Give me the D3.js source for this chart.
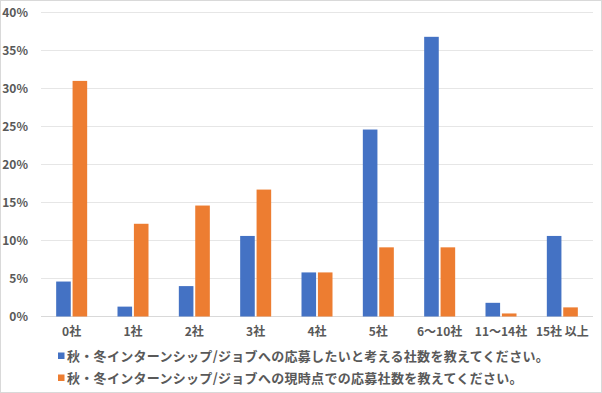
<!DOCTYPE html>
<html>
<head>
<meta charset="utf-8">
<script src="https://cdn.jsdelivr.net/npm/d3@7"></script>
<style>
  body { margin: 0; background: #fff; }
  svg { display: block; }
  text { font-family: "Noto Sans CJK JP", "Noto Sans", sans-serif; fill: #595959; }
</style>
</head>
<body>
<svg id="chart"></svg>
<script>
// categories and series (percent)
const categories = ['0社', '1社', '2社', '3社', '4社', '5社', '6～10社', '11～14社', '15社 以上']
const seriesNames = [
  '秋・冬インターンシップ/ジョブへの応募したいと考える社数を教えてください。',
  '秋・冬インターンシップ/ジョブへの現時点での応募社数を教えてください。'
]
const wantValues = [4.6, 1.3, 4.0, 10.6, 5.8, 24.6, 36.8, 1.8, 10.6]
const nowValues = [31.0, 12.2, 14.6, 16.7, 5.8, 9.1, 9.1, 0.4, 1.2]
const yTicks = [0, 5, 10, 15, 20, 25, 30, 35, 40]
const colors = ['#4472C4', '#ED7D31']

const width = 602
const height = 393
const margin = { top: 12.5, right: 9, bottom: 76.5, left: 41 }
const w = width - margin.left - margin.right
const h = height - margin.top - margin.bottom

const svg = d3.select('#chart')
  .attr('width', width)
  .attr('height', height)

// outer border
svg.append('rect')
  .attr('x', 0.5).attr('y', 0.5)
  .attr('width', width - 1).attr('height', height - 1)
  .attr('fill', '#fff')
  .attr('stroke', '#d9d9d9')

const chart = svg.append('g')
  .attr('transform', `translate(${margin.left}, ${margin.top})`)

const x = d3.scaleBand()
  .domain(categories)
  .range([0, w])

const x1 = d3.scaleBand()
  .domain([0, 1])
  .range([x.bandwidth() / 2 - 15.5, x.bandwidth() / 2 + 15.5])
  .paddingInner(0.11)

const y = d3.scaleLinear()
  .domain([0, 40])
  .range([h, 0])

// gridlines
chart.append('g')
  .selectAll('line')
  .data(yTicks)
  .join('line')
    .attr('x1', 0)
    .attr('x2', w)
    .attr('y1', d => y(d))
    .attr('y2', d => y(d))
    .attr('stroke', d => d === 0 ? '#d9d9d9' : '#e6e6e6')
    .attr('stroke-width', 1)

// y axis labels
const yAxis = d3.axisLeft(y)
  .tickValues(yTicks)
  .tickFormat(d => d + '%')
  .tickSize(0)
  .tickPadding(13)

chart.append('g')
  .call(yAxis)
  .call(g => g.select('.domain').remove())
  .selectAll('text')
    .style('font-size', '12px')
    .style('font-weight', 'bold')
    .attr('fill', '#595959')

// x axis labels
const xAxis = d3.axisBottom(x)
  .tickSize(0)
  .tickPadding(11)

chart.append('g')
  .attr('transform', `translate(0, ${h})`)
  .call(xAxis)
  .call(g => g.select('.domain').remove())
  .selectAll('text')
    .style('font-size', '12px')
    .style('font-weight', 'bold')
    .attr('fill', '#595959')

// bars
const series = [wantValues, nowValues]
const groups = chart.selectAll('.column')
  .data(categories)
  .join('g')
    .attr('class', 'column')
    .attr('transform', d => `translate(${x(d)}, 0)`)

groups.selectAll('rect')
  .data((d, i) => series.map((s, k) => ({ k, v: s[i] })))
  .join('rect')
    .attr('x', d => x1(d.k))
    .attr('width', x1.bandwidth())
    .attr('y', d => y(d.v))
    .attr('height', d => h - y(d.v))
    .attr('fill', d => colors[d.k])

// legend
const legend = svg.append('g')
  .attr('transform', 'translate(58, 356)')

const item = legend.selectAll('g')
  .data(seriesNames)
  .join('g')
    .attr('transform', (d, i) => `translate(0, ${i * 22})`)

item.append('rect')
  .attr('x', 0)
  .attr('y', -3.5)
  .attr('width', 6.5)
  .attr('height', 6.5)
  .attr('fill', (d, i) => colors[i])

item.append('text')
  .attr('x', 9)
  .attr('y', 0)
  .attr('dy', '0.35em')
  .style('font-size', '13px')
  .style('font-weight', 'bold')
  .style('letter-spacing', '0.3px')
  .text(d => d)
</script>
</body>
</html>
